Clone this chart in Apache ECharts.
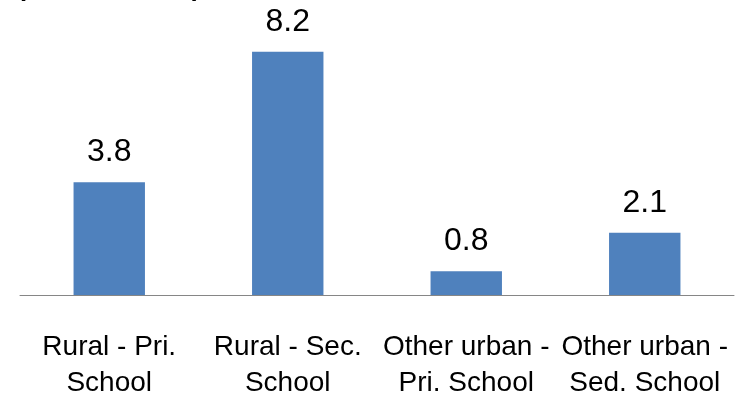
<!DOCTYPE html>
<html>
<head>
<meta charset="utf-8">
<script src="https://cdn.jsdelivr.net/npm/echarts@6/dist/echarts.min.js"></script>
<style>
  html, body { margin: 0; padding: 0; background: #fff; }
  #chart { width: 739px; height: 401px; }
</style>
</head>
<body>
<div id="chart"></div>
<script>
// Categories along the x axis
const categories = [
  'Rural - Pri.\nSchool',
  'Rural - Sec.\nSchool',
  'Other urban -\nPri. School',
  'Other urban -\nSed. School'
];
// Bar values
const values = [3.8, 8.2, 0.8, 2.1];
// Heading (sits mostly above the visible area)
const headingText = '(Kms, 2007-08)';

const chart = echarts.init(document.getElementById('chart'), null, { renderer: 'canvas' });

chart.setOption({
  animation: false,
  backgroundColor: '#ffffff',
  textStyle: { fontFamily: 'Liberation Sans' },
  graphic: [{
    type: 'text',
    left: 17,
    top: -24,
    style: {
      text: headingText,
      font: 'bold 26px "Liberation Sans"',
      fill: '#000000'
    }
  }],
  grid: { left: 20, right: 5, top: 28, bottom: 106, containLabel: false },
  xAxis: {
    type: 'category',
    data: categories,
    axisLine: { show: true, lineStyle: { color: '#868686', width: 1 } },
    axisTick: { show: false },
    axisLabel: {
      interval: 0,
      margin: 34,
      fontSize: 28,
      lineHeight: 36,
      color: '#000000',
      fontFamily: 'Liberation Sans'
    }
  },
  yAxis: {
    type: 'value',
    min: 0,
    max: 9,
    show: false,
    splitLine: { show: false }
  },
  series: [{
    type: 'bar',
    data: values,
    barWidth: '40%',
    itemStyle: { color: '#4F81BD' },
    label: {
      show: true,
      position: 'top',
      distance: 14,
      fontSize: 32,
      color: '#000000',
      fontFamily: 'Liberation Sans',
      formatter: (p) => p.value.toFixed(1)
    }
  }]
});
</script>
</body>
</html>
